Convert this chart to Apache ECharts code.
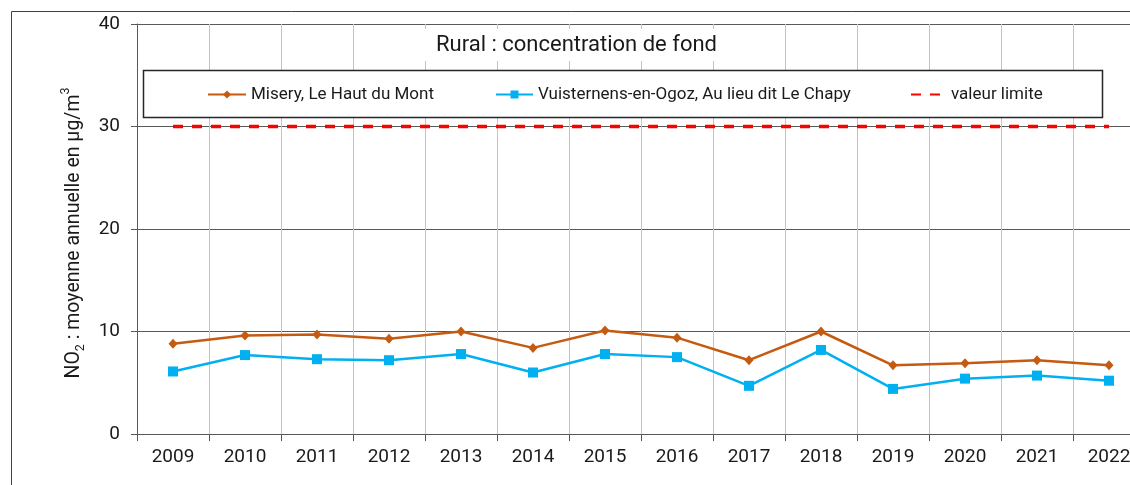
<!DOCTYPE html>
<html>
<head>
<meta charset="utf-8">
<script src="https://cdn.jsdelivr.net/npm/echarts@6/dist/echarts.min.js"></script>
<style>
  html, body { margin: 0; padding: 0; background: #fff; }
  #main { width: 1130px; height: 485px; }
</style>
</head>
<body>
<div id="main"></div>
<script>
// données
const years = ['2009', '2010', '2011', '2012', '2013', '2014', '2015', '2016', '2017', '2018', '2019', '2020', '2021', '2022']
const misery = [8.8, 9.6, 9.7, 9.3, 10.0, 8.4, 10.1, 9.4, 7.2, 10.0, 6.7, 6.9, 7.2, 6.7]
const vuisternens = [6.1, 7.7, 7.3, 7.2, 7.8, 6.0, 7.8, 7.5, 4.7, 8.2, 4.4, 5.4, 5.7, 5.2]
const limite = [30, 30, 30, 30, 30, 30, 30, 30, 30, 30, 30, 30, 30, 30]
const yTicks = { min: 0, max: 40, interval: 10 }

const FONT = 'Roboto'
const chart = echarts.init(document.getElementById('main'))

const legendBase = {
    top: 86,
    itemHeight: 10,
    z: 10,
    padding: 0,
    textStyle: { fontFamily: FONT, fontSize: 17, color: '#1a1a1a' }
}

const option = {
    backgroundColor: '#fff',
    animation: false,
    title: {
        text: 'Rural : concentration de fond',
        left: 423,
        top: 29,
        padding: [5, 13, 5, 13],
        backgroundColor: '#fff',
        textStyle: { fontFamily: FONT, fontSize: 22, fontWeight: 'normal', color: '#1a1a1a' }
    },
    graphic: [
        {
            type: 'rect', z: 1, silent: true,
            shape: { x: 11.5, y: 11.5, width: 1300, height: 700 },
            style: { fill: null, stroke: '#404040', lineWidth: 1 }
        },
        {
            type: 'rect', z: 8, silent: true,
            shape: { x: 143.5, y: 70.5, width: 959, height: 47 },
            style: { fill: '#fff', stroke: '#262626', lineWidth: 1.5 }
        }
    ],
    legend: [
        Object.assign({}, legendBase, { left: 207, itemWidth: 38, data: ['Misery, Le Haut du Mont'] }),
        Object.assign({}, legendBase, { left: 495, itemWidth: 37, data: ['Vuisternens-en-Ogoz, Au lieu dit Le Chapy'] }),
        Object.assign({}, legendBase, {
            left: 910, itemWidth: 30, data: ['valeur limite'],
            itemStyle: { opacity: 0 },
            textStyle: { fontFamily: FONT, fontSize: 17, color: '#1a1a1a', padding: [0, 0, 0, 5] }
        })
    ],
    grid: {
        left: 137,
        top: 24,
        right: -15,
        bottom: 51,
        containLabel: false,
        outerBoundsMode: 'none'
    },
    xAxis: {
        type: 'category',
        data: years,
        boundaryGap: true,
        axisLine: { lineStyle: { color: '#595959', width: 1 } },
        axisTick: { show: true, length: 7, lineStyle: { color: '#595959' } },
        axisLabel: { fontFamily: FONT, fontSize: 19, color: '#1a1a1a', margin: 14, interval: 0 },
        splitLine: { show: true, lineStyle: { color: '#c4c4c4', width: 1 } }
    },
    yAxis: {
        type: 'value',
        min: yTicks.min,
        max: yTicks.max,
        interval: yTicks.interval,
        name: 'NO{sub|2} : moyenne annuelle en µg/m{sup|3}',
        nameLocation: 'middle',
        nameRotate: 90,
        nameGap: 35,
        nameTextStyle: {
            fontFamily: FONT, fontSize: 19.5, color: '#1a1a1a', lineHeight: 28,
            padding: [0, 8, 0, 0],
            rich: {
                sub: { fontFamily: FONT, fontSize: 12.5, color: '#1a1a1a', verticalAlign: 'bottom', lineHeight: 28 },
                sup: { fontFamily: FONT, fontSize: 12.5, color: '#1a1a1a', verticalAlign: 'top', lineHeight: 28 }
            }
        },
        axisLine: { show: true, lineStyle: { color: '#595959', width: 1 } },
        axisTick: { show: true, length: 6, lineStyle: { color: '#595959' } },
        axisLabel: { fontFamily: FONT, fontSize: 19, color: '#1a1a1a', margin: 17 },
        splitLine: { show: true, lineStyle: { color: '#595959', width: 1 } }
    },
    series: [
        {
            name: 'Misery, Le Haut du Mont',
            type: 'line',
            data: misery,
            symbol: 'diamond',
            symbolSize: [9, 10],
            lineStyle: { color: '#C55A11', width: 2.5 },
            itemStyle: { color: '#C55A11' },
            z: 5
        },
        {
            name: 'Vuisternens-en-Ogoz, Au lieu dit Le Chapy',
            type: 'line',
            data: vuisternens,
            symbol: 'rect',
            symbolSize: 10,
            lineStyle: { color: '#00B0F0', width: 2.5 },
            itemStyle: { color: '#00B0F0' },
            z: 5
        },
        {
            name: 'valeur limite',
            type: 'line',
            data: limite,
            symbol: 'none',
            lineStyle: { color: '#FF0000', width: 3.5, type: [10, 9] },
            itemStyle: { color: '#FF0000' },
            z: 6
        }
    ]
}

chart.setOption(option)

window.addEventListener('resize', () => {
    chart.resize()
})
</script>
</body>
</html>
